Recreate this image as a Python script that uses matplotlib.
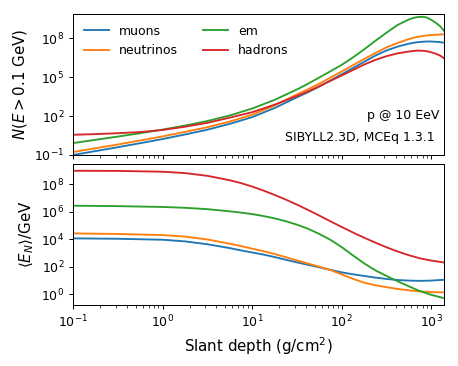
import numpy as np
import matplotlib
matplotlib.use("Agg")
import matplotlib.pyplot as plt
from matplotlib.ticker import NullLocator

# ---- data: log10 of slant depth (g/cm^2) and log10 of quantities ----
# Top panel: N(E > 0.1 GeV)
top_logx = [-1.0, -0.75, -0.5, -0.25, 0.0, 0.25, 0.5, 0.75, 1.0, 1.25, 1.5, 1.625,
            1.75, 1.875, 2.0, 2.125, 2.25, 2.375, 2.5, 2.625, 2.75, 2.8, 2.85,
            2.9, 2.95, 3.0, 3.05, 3.1, 3.142]
n_muons = [-1.00, -0.70, -0.40, -0.09, 0.23, 0.58, 0.95, 1.40, 1.92, 2.62, 3.45, 3.85,
           4.28, 4.75, 5.22, 5.70, 6.18, 6.66, 7.06, 7.36, 7.58, 7.65, 7.70,
           7.73, 7.75, 7.75, 7.73, 7.70, 7.66]
n_neutrinos = [-0.77, -0.48, -0.19, 0.12, 0.43, 0.78, 1.14, 1.58, 2.10, 2.82, 3.67, 4.07,
               4.50, 4.97, 5.44, 5.92, 6.40, 6.86, 7.30, 7.64, 7.94, 8.03, 8.11,
               8.17, 8.22, 8.25, 8.27, 8.29, 8.31]
n_em = [-0.08, 0.17, 0.42, 0.68, 0.96, 1.27, 1.62, 2.05, 2.58, 3.25, 4.05, 4.50,
        4.98, 5.46, 5.95, 6.52, 7.14, 7.80, 8.43, 9.03, 9.45, 9.57, 9.64,
        9.66, 9.60, 9.42, 9.20, 8.92, 8.58]
n_hadrons = [0.56, 0.61, 0.68, 0.77, 0.93, 1.18, 1.48, 1.88, 2.30, 2.88, 3.55, 3.90,
             4.30, 4.72, 5.13, 5.55, 5.97, 6.33, 6.62, 6.84, 6.98, 7.02, 7.05,
             7.04, 7.00, 6.92, 6.81, 6.66, 6.46]

# Bottom panel: <E_N> / GeV
bot_logx = [-1.0, -0.5, 0.0, 0.25, 0.5, 0.75, 0.875, 1.0, 1.125, 1.25, 1.375, 1.5,
            1.625, 1.75, 1.875, 2.0, 2.125, 2.25, 2.375, 2.5, 2.625, 2.75, 2.875,
            3.0, 3.142]
e_muons = [4.06, 4.03, 3.96, 3.84, 3.63, 3.35, 3.18, 3.03, 2.88, 2.70, 2.50, 2.31,
           2.13, 1.95, 1.76, 1.58, 1.44, 1.32, 1.20, 1.10, 1.02, 0.98, 0.96,
           0.98, 1.04]
e_neutrinos = [4.42, 4.38, 4.30, 4.19, 3.98, 3.67, 3.50, 3.31, 3.13, 2.92, 2.69, 2.45,
               2.22, 1.99, 1.75, 1.43, 1.11, 0.83, 0.64, 0.50, 0.37, 0.27, 0.19,
               0.14, 0.12]
e_em = [6.44, 6.41, 6.35, 6.29, 6.19, 6.03, 5.94, 5.83, 5.69, 5.52, 5.31, 5.06,
        4.76, 4.38, 3.95, 3.42, 2.82, 2.24, 1.73, 1.32, 0.93, 0.56, 0.21,
        -0.06, -0.30]
e_hadrons = [8.99, 8.98, 8.92, 8.82, 8.62, 8.30, 8.09, 7.84, 7.55, 7.23, 6.89, 6.52,
             6.13, 5.72, 5.30, 4.89, 4.49, 4.11, 3.75, 3.41, 3.10, 2.83, 2.60,
             2.44, 2.30]

labels = ["muons", "neutrinos", "em", "hadrons"]
colors = ["#1f77b4", "#ff7f0e", "#2ca02c", "#d62728"]

DPI = 90
fig = plt.figure(figsize=(458 / DPI, 366 / DPI), dpi=DPI)
ax1 = fig.add_axes([73 / 458, 1 - 155 / 366, 371 / 458, 141.5 / 366])
ax2 = fig.add_axes([73 / 458, 1 - 305 / 366, 371 / 458, 141.5 / 366], sharex=ax1)

tx = 10 ** np.array(top_logx)
for lab, col, ys in zip(labels, colors, [n_muons, n_neutrinos, n_em, n_hadrons]):
    ax1.plot(tx, 10 ** np.array(ys), color=col, lw=1.5, label=lab)

bx = 10 ** np.array(bot_logx)
for lab, col, ys in zip(labels, colors, [e_muons, e_neutrinos, e_em, e_hadrons]):
    ax2.plot(bx, 10 ** np.array(ys), color=col, lw=1.5, label=lab)

for ax in (ax1, ax2):
    ax.set_xscale("log")
    ax.set_yscale("log")
ax1.set_xlim(0.1, 10 ** 3.142)
ax1.set_ylim(1e-1, 10 ** 9.91)
ax1.set_yticks([1e-1, 1e2, 1e5, 1e8])
ax1.yaxis.set_minor_locator(NullLocator())
ax2.set_ylim(10 ** -0.80, 10 ** 9.52)
ax2.set_yticks([1e0, 1e2, 1e4, 1e6, 1e8])
ax2.yaxis.set_minor_locator(NullLocator())
plt.setp(ax1.get_xticklabels(), visible=False)

ax1.set_ylabel(r"$N(E > 0.1\ \mathrm{GeV})$", fontsize=12)
ax2.set_ylabel(r"$\langle E_N \rangle$/GeV", fontsize=12)
ax2.set_xlabel(r"Slant depth (g/cm$^2$)", fontsize=12)

ax1.legend(loc="upper left", ncol=2, frameon=False, fontsize=10)
ax1.text(0.987, 0.276, "p @ 10 EeV", transform=ax1.transAxes, ha="right", va="center", fontsize=10)
ax1.text(0.976, 0.127, "SIBYLL2.3D, MCEq 1.3.1", transform=ax1.transAxes, ha="right", va="center", fontsize=10)

fig.savefig("out.png", dpi=DPI)
